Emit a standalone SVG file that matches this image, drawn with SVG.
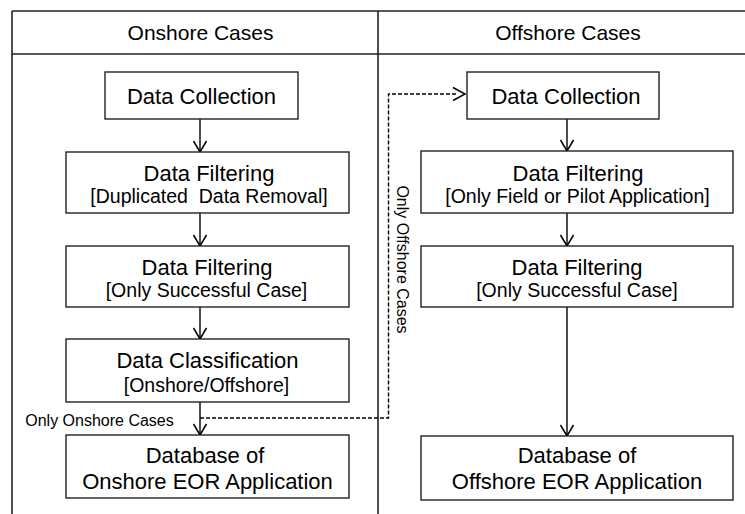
<svg xmlns="http://www.w3.org/2000/svg" width="745" height="514" viewBox="0 0 745 514">
<defs>
<marker id="ah" markerWidth="16" markerHeight="16" refX="12" refY="7" orient="auto" markerUnits="userSpaceOnUse">
<path d="M1,0.5 L12,7 L1,13.5" fill="none" stroke="#000" stroke-width="1.5"/>
</marker>
</defs>
<style>
.frame{stroke:#222;stroke-width:1.6;fill:none}
.box{fill:#fff;stroke:#222;stroke-width:1.4}
.t{font-family:"Liberation Sans",Arial,sans-serif;fill:#000;text-anchor:middle}
.big{font-size:22px}
.small{font-size:19.5px}
.hdr{font-size:21px}
.lbl{font-size:16px}
.c{stroke:#000;stroke-width:1.4;fill:none;marker-end:url(#ah)}
.d{stroke:#000;stroke-width:1.4;fill:none;stroke-dasharray:4,2}
</style>
<rect width="745" height="514" fill="#fff"/>
<g id="table">
<line class="frame" x1="12" y1="11" x2="745" y2="11"/>
<line class="frame" x1="12" y1="54" x2="745" y2="54"/>
<line class="frame" x1="12" y1="11" x2="12" y2="514"/>
<line class="frame" x1="378" y1="11" x2="378" y2="514"/>
<text class="t hdr" x="200.5" y="40">Onshore Cases</text>
<text class="t hdr" x="568" y="40">Offshore Cases</text>
</g>
<g id="connectors">
<line class="c" x1="200" y1="119" x2="200" y2="152"/>
<line class="c" x1="200" y1="213" x2="200" y2="246"/>
<line class="c" x1="200" y1="307" x2="200" y2="339"/>
<line class="c" x1="200" y1="402" x2="200" y2="435"/>
<line class="c" x1="567" y1="119" x2="567" y2="151"/>
<line class="c" x1="567" y1="213" x2="567" y2="246"/>
<line class="c" x1="567" y1="307" x2="567" y2="436"/>
<path class="d" d="M200,418 H388.5 V94 H458"/>
<path d="M453,87.5 L465,94 L453,100.5" fill="none" stroke="#000" stroke-width="1.5"/>
<text class="t lbl" x="99.5" y="425.5">Only Onshore Cases</text>
<text class="t lbl" transform="translate(396.5,259.5) rotate(90)" x="0" y="0">Only Offshore Cases</text>
</g>
<g id="on-collect">
<rect class="box" x="105" y="72" width="193" height="47"/>
<text class="t big" x="201.5" y="104">Data Collection</text>
</g>
<g id="on-filter1">
<rect class="box" x="66" y="152" width="283" height="61"/>
<text class="t big" x="209" y="181">Data Filtering</text>
<text class="t small" x="209" y="203" xml:space="preserve">[Duplicated  Data Removal]</text>
</g>
<g id="on-filter2">
<rect class="box" x="66" y="246" width="283" height="61"/>
<text class="t big" x="207" y="275">Data Filtering</text>
<text class="t small" x="206.5" y="297">[Only Successful Case]</text>
</g>
<g id="on-class">
<rect class="box" x="66" y="339" width="283" height="63"/>
<text class="t big" x="207.5" y="368">Data Classification</text>
<text class="t small" x="206.5" y="392">[Onshore/Offshore]</text>
</g>
<g id="on-db">
<rect class="box" x="66" y="435" width="283" height="63"/>
<text class="t big" x="205" y="463">Database of</text>
<text class="t big" x="207.5" y="489">Onshore EOR Application</text>
</g>
<g id="off-collect">
<rect class="box" x="467" y="72" width="192" height="47"/>
<text class="t big" x="566" y="104">Data Collection</text>
</g>
<g id="off-filter1">
<rect class="box" x="421" y="151" width="312" height="62"/>
<text class="t big" x="578" y="181">Data Filtering</text>
<text class="t small" x="577.5" y="203">[Only Field or Pilot Application]</text>
</g>
<g id="off-filter2">
<rect class="box" x="421" y="246" width="312" height="61"/>
<text class="t big" x="577" y="275">Data Filtering</text>
<text class="t small" x="577" y="297">[Only Successful Case]</text>
</g>
<g id="off-db">
<rect class="box" x="421" y="436" width="312" height="64"/>
<text class="t big" x="577" y="463">Database of</text>
<text class="t big" x="577" y="489">Offshore EOR Application</text>
</g>
</svg>
